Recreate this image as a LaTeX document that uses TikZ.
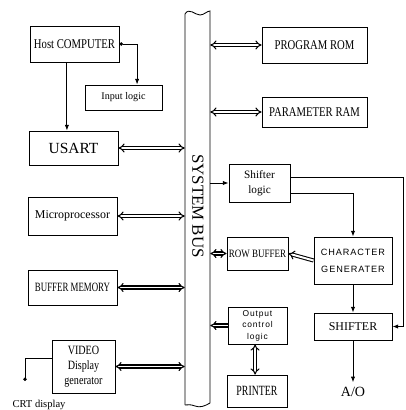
\documentclass[tikz,border=0pt]{standalone}
\usepackage{fontspec}
\setmainfont{Liberation Serif}
\newfontfamily\narrowfont[FakeStretch=0.8]{Liberation Serif}
\newfontfamily\slimfont[FakeStretch=0.7]{Liberation Serif}
\newfontfamily\spacedfont[LetterSpace=10]{Liberation Sans}
\usetikzlibrary{arrows.meta, positioning}
\newcommand{\fs}[2]{\fontsize{#1}{#2}\selectfont}
\tikzset{
  blk/.style={
    rectangle, draw=black, line width=0.6pt,
    inner sep=1pt, text centered, align=center
  },
  busarrow/.style={double, double distance=1.4pt, line width=0.75pt,
    {Implies}-{Implies}},
  busone/.style={double, double distance=1.4pt, line width=0.75pt,
    -{Implies}},
  sarrow/.style={-{Latex[length=4pt,width=3pt]}, line width=0.6pt},
  dotarrow/.style={{Circle[length=2.5pt]}-{Latex[length=4pt,width=3pt]},
    line width=0.6pt},
  dotend/.style={-{Circle[length=2.5pt]}, line width=0.6pt},
}

\begin{document}
\begin{tikzpicture}[x=0.025cm, y=-0.025cm]
  \useasboundingbox (0,0) rectangle (406,410);

  % system bus
  \node[minimum width=0.625cm, minimum height=9.8cm, inner sep=0pt]
       (bus) at (197.5,208) {};
  \draw[line width=0.6pt] (185,405) -- (185,14)
       .. controls (189,7) and (195,15) .. (200,15)
       .. controls (204,15) and (207,11) .. (210,11) -- (210,403)
       .. controls (205,406) and (200,408) .. (195,406)
       .. controls (190,404) and (188,405) .. (185,405);
  \node[rotate=-90, font=\fs{12}{13}] (bustext) at (198,206) {SYSTEM BUS};

  % left column
  \node[blk, minimum width=2.225cm, minimum height=0.9cm,
        font=\narrowfont\fs{9.5}{10}] (host) at (74.5,44) {Host COMPUTER};
  \node[blk, minimum width=1.925cm, minimum height=0.625cm,
        font=\fs{7.2}{8}] (input) at (123.5,97.5) {Input logic};
  \node[blk, minimum width=2.225cm, minimum height=0.85cm,
        font=\fs{11}{12}] (usart) at (73.5,148) {USART};
  \node[blk, minimum width=2.225cm, minimum height=0.95cm,
        font=\fs{8.5}{9}] (micro) at (72.5,216) {Microprocessor};
  \node[blk, minimum width=2.225cm, minimum height=0.875cm,
        font=\slimfont\fs{9}{10}] (bufmem) at (72.5,287.5) {BUFFER MEMORY};
  \node[blk, minimum width=1.575cm, minimum height=1.325cm,
        font=\narrowfont\fs{9}{10.7}] (video) at (83.5,366.5)
       {VIDEO\\Display\\generator};
  \coordinate (crt) at (25,381);
  \node[font=\fs{7.5}{8}] (crtlabel) at (39,405) {CRT display};

  % right column
  \node[blk, minimum width=2.625cm, minimum height=0.9cm,
        font=\narrowfont\fs{9.5}{10}] (prom) at (314.5,45) {PROGRAM ROM};
  \node[blk, minimum width=2.625cm, minimum height=0.75cm,
        font=\narrowfont\fs{9.5}{10}] (pram) at (314.5,112) {PARAMETER RAM};
  \node[blk, minimum width=1.525cm, minimum height=0.95cm,
        font=\fs{8}{10.5}] (shl) at (259.5,183) {Shifter\\logic};
  \node[blk, minimum width=1.525cm, minimum height=0.825cm,
        font=\narrowfont\fs{8}{9}] (rowbuf) at (257.5,253.5) {ROW BUFFER};
  \node[blk, minimum width=1.95cm, minimum height=1.175cm,
        font=\spacedfont\fs{6.5}{12}] (chargen) at (353,260.5)
       {CHARACTER\\GENERATER};
  \node[blk, minimum width=1.475cm, minimum height=0.925cm,
        font=\spacedfont\fs{6}{8.2}] (outctl) at (257.5,325.5)
       {Output\\control\\logic};
  \node[blk, minimum width=1.5cm, minimum height=0.8cm,
        font=\slimfont\fs{10}{11}] (printer) at (257,391) {PRINTER};
  \node[blk, minimum width=1.95cm, minimum height=0.675cm,
        font=\fs{8.5}{9}] (shifter) at (353,326.5) {SHIFTER};
  \node[font=\fs{10}{11}] (ao) at (353,392) {A/O};

  % connectors
  \draw[dotarrow] (host.east) -| ([xshift=0.34cm]input.north);
  \draw[sarrow] ([xshift=-0.19cm]host.south)
       -- ([xshift=-0.19cm]host.south |- usart.north);
  \draw[busarrow] (usart.east) -- (usart.east -| bus.west);
  \draw[busarrow] (micro.east) -- (micro.east -| bus.west);
  \draw[busarrow] (bufmem.east) -- (bufmem.east -| bus.west);
  \draw[busarrow] (video.east) -- (video.east -| bus.west);
  \draw[dotend] ([yshift=0.2cm]video.west) -| (crt);

  \draw[busarrow] (prom.west -| bus.east) -- (prom.west);
  \draw[busarrow] (pram.west -| bus.east) -- (pram.west);
  \draw[sarrow] (shl.west -| bus.east) -- (shl.west);
  \draw[busarrow] (rowbuf.west -| bus.east) -- (rowbuf.west);
  \draw[busone] (outctl.west) -- (outctl.west -| bus.east);
  \draw[busarrow] ([xshift=-0.06cm]outctl.south)
       -- ([xshift=-0.06cm]outctl.south |- printer.north);
  \draw[busone] (chargen.west) -- (rowbuf.east);

  \draw[sarrow] ([yshift=0.15cm]shl.east)
       -| ([xshift=0.275cm]shifter.east) -- (shifter.east);
  \draw[sarrow] ([yshift=-0.25cm]shl.east) -| (chargen.north);
  \draw[sarrow] (chargen.south) -- (shifter.north);
  \draw[sarrow] (shifter.south) -- (ao.north);
\end{tikzpicture}
\end{document}
